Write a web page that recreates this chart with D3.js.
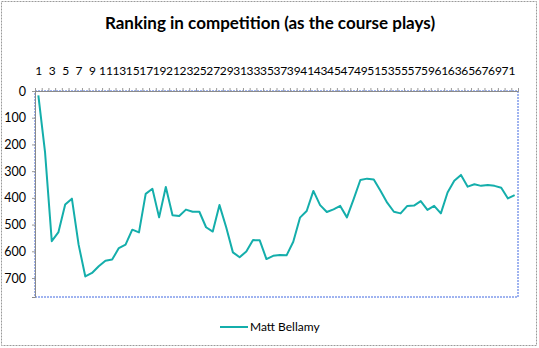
<!DOCTYPE html>
<html>
<head>
<meta charset="utf-8">
<script src="https://cdn.jsdelivr.net/npm/d3@7"></script>
<style>
  body { margin: 0; background: #fff; }
  text { font-family: Lato, "Open Sans", sans-serif; fill: #000; }
</style>
</head>
<body>
<div id="chart"></div>
<script>
// --- Daten ---
const titel = "Ranking in competition (as the course plays)";
const serienName = "Matt Bellamy";
const runden = d3.range(1, 73); // Kategorien 1..72
const platzierung = [
  16, 230, 562, 528, 425, 403, 575, 694, 681, 656,
  635, 631, 588, 575, 519, 529, 385, 366, 473, 359,
  465, 468, 444, 452, 452, 510, 526, 427, 510, 604,
  622, 601, 558, 559, 629, 617, 614, 615, 564, 474,
  449, 374, 427, 453, 443, 430, 473, 405, 333, 328,
  331, 373, 418, 452, 458, 430, 429, 412, 445, 430,
  458, 380, 336, 314, 358, 349, 355, 352, 355, 362,
  402, 390
];
const xLabels = runden.filter(d => d % 2 === 1); // 1,3,5,...,71
const yTicks = [0, 100, 200, 300, 400, 500, 600, 700];

// --- Abmessungen ---
const width = 539, height = 348;
const plot = { left: 35, right: 518, top: 91, bottom: 297 };

const svg = d3.select("#chart").append("svg")
  .attr("width", width)
  .attr("height", height);

// Rahmen um das ganze Diagramm (gestrichelt grau)
svg.append("rect")
  .attr("x", 1.5).attr("y", 1.5)
  .attr("width", 535).attr("height", 344)
  .attr("fill", "none")
  .attr("stroke", "#9a9a9a")
  .attr("stroke-dasharray", "2,1");

// Skalen
const x = d3.scaleLinear().domain([0.5, 72.5]).range([plot.left, plot.right]);
const y = d3.scaleLinear().domain([0, 771]).range([plot.top, plot.bottom]);

// Titel
svg.append("text")
  .attr("x", 270).attr("y", 29)
  .attr("text-anchor", "middle")
  .style("font-size", "17px")
  .style("font-weight", "bold")
  .text(titel);

// Zeichenfläche: Rahmen
svg.append("rect")
  .attr("x", plot.left).attr("y", plot.top)
  .attr("width", plot.right - plot.left).attr("height", plot.bottom - plot.top)
  .attr("fill", "none")
  .attr("stroke", "#4169e1")
  .attr("stroke-width", 1)
  .attr("stroke-dasharray", "2,1");

// X-Achse oben: Tickmarken an Kategoriegrenzen
svg.append("g")
  .attr("transform", `translate(0,${plot.top})`)
  .call(d3.axisTop(x).tickValues(d3.range(0.5, 73, 1)).tickSize(3).tickFormat(""))
  .call(g => g.select(".domain").attr("stroke", "#8a8a8a"))
  .call(g => g.selectAll(".tick line").attr("stroke", "#9a9a9a"));

// X-Achse oben: Beschriftungen (jede zweite Kategorie)
svg.append("g")
  .attr("transform", `translate(0,${plot.top})`)
  .call(d3.axisTop(x).tickValues(xLabels).tickSize(0).tickPadding(16).tickFormat(d3.format("d")))
  .call(g => g.select(".domain").remove())
  .call(g => g.selectAll("text").style("font-size", "12px").attr("fill", "#000"));

// Y-Achse links (umgekehrt: 0 oben)
svg.append("g")
  .attr("transform", `translate(${plot.left},0)`)
  .call(d3.axisLeft(y).tickValues(yTicks).tickSize(3).tickPadding(6))
  .call(g => g.select(".domain").attr("stroke", "#8a8a8a"))
  .call(g => g.selectAll(".tick line").attr("stroke", "#9a9a9a"))
  .call(g => g.selectAll("text").style("font-size", "12.5px").attr("fill", "#000"));

// Linie
const linie = d3.line()
  .x((d, i) => x(runden[i]))
  .y(d => y(d));

svg.append("path")
  .datum(platzierung)
  .attr("fill", "none")
  .attr("stroke", "#14aeab")
  .attr("stroke-width", 2)
  .attr("stroke-linejoin", "round")
  .attr("d", linie);

// Legende
const legende = svg.append("g").attr("transform", "translate(220,327)");
legende.append("line")
  .attr("x1", 0).attr("x2", 28)
  .attr("stroke", "#14aeab")
  .attr("stroke-width", 2);
legende.append("text")
  .attr("x", 30).attr("dy", "0.35em")
  .style("font-size", "12px")
  .text(serienName);
</script>
</body>
</html>
